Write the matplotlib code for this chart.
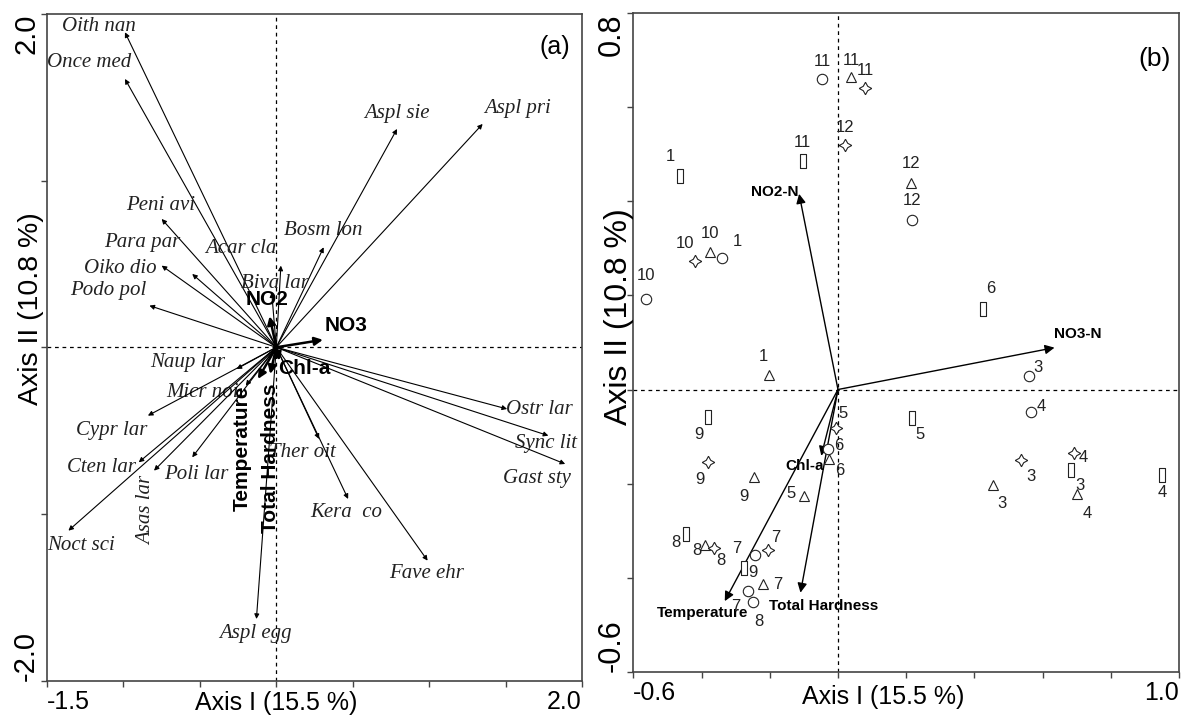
import numpy as np
import matplotlib
matplotlib.use('Agg')
import matplotlib.pyplot as plt
from matplotlib import font_manager as fm

plt.rcParams['font.family'] = ['Liberation Sans', 'DejaVu Sans']

# ---------------- panel (a): species / environment biplot ----------------
species = ['Oith nan', 'Once med', 'Peni avi', 'Para par', 'Oiko dio', 'Podo pol',
           'Acar cla', 'Bosm lon', 'Biva lar', 'Aspl sie', 'Aspl pri', 'Naup lar',
           'Micr noi', 'Cypr lar', 'Cten lar', 'Asas lar', 'Poli lar', 'Noct sci',
           'Aspl egg', 'Ther oit', 'Kera  co', 'Fave ehr', 'Ostr lar', 'Sync lit',
           'Gast sty']
sp_x = [-0.99, -0.99, -0.75, -0.55, -0.75, -0.83, 0.03, 0.31, -0.03, 0.79, 1.35,
        -0.26, -0.20, -0.84, -0.90, -0.80, -0.55, -1.36, -0.13, 0.28, 0.47, 0.99,
        1.51, 1.78, 1.89]
sp_y = [1.89, 1.61, 0.77, 0.44, 0.49, 0.25, 0.49, 0.60, 0.33, 1.31, 1.34,
        -0.13, -0.23, -0.41, -0.69, -0.74, -0.66, -1.10, -1.63, -0.55, -0.91, -1.28,
        -0.37, -0.53, -0.70]

env_a = ['NO2', 'NO3', 'Chl-a', 'Temperature', 'Total Hardness']
env_a_x = [-0.044, 0.305, 0.02, -0.12, -0.04]
env_a_y = [0.186, 0.045, -0.08, -0.19, -0.16]

# ---------------- panel (b): samples / environment biplot ----------------
env_b = ['NO2-N', 'NO3-N', 'Chl-a', 'Temperature', 'Total Hardness']
env_b_x = [-0.114, 0.635, -0.049, -0.332, -0.110]
env_b_y = [0.416, 0.089, -0.141, -0.450, -0.432]

circ_x = [-0.047, -0.339, -0.562, 0.217, 0.559, 0.567, -0.029, -0.244, -0.264, -0.249]
circ_y = [0.660, 0.280, 0.192, 0.361, 0.029, -0.047, -0.126, -0.352, -0.428, -0.451]
circ_lab = ['11', '1', '10', '12', '3', '4', '6', '7', '7', '8']

tri_x = [0.039, -0.376, -0.203, 0.215, 0.455, 0.701, -0.246, -0.101, -0.026, -0.391, -0.220]
tri_y = [0.664, 0.292, 0.031, 0.440, -0.203, -0.223, -0.186, -0.226, -0.148, -0.330, -0.414]
tri_lab = ['11', '10', '1', '12', '3', '4', '9', '5', '6', '8', '7']

star_x = [0.080, 0.020, -0.420, 0.538, 0.691, -0.381, -0.005, -0.365, -0.205]
star_y = [0.641, 0.519, 0.274, -0.150, -0.136, -0.155, -0.081, -0.337, -0.342]
star_lab = ['11', '12', '10', '3', '4', '9', '5', '8', '7']

rect_x = [-0.104, -0.464, 0.425, 0.217, 0.684, 0.951, -0.381, -0.447, -0.277]
rect_y = [0.485, 0.455, 0.171, -0.061, -0.171, -0.182, -0.058, -0.308, -0.380]
rect_lab = ['11', '1', '6', '5', '3', '4', '9', '8', '9']

# label offsets (points) -- layout only
sp_off = [(-19, 4.5), (-26, 12), (-1, 10), (-36, 23), (-30, -2), (-30, 11),
          (-29, 12), (0, 12), (2, 6), (0, 11), (25, 11), (-35, 4.5),
          (-31, -5), (-26, -11), (-27, -4), (-5, -29), (3, -12.5), (9, -11),
          (-1, -10.5), (-12, -10), (-1, -10), (-1, -9.5), (23, -0.5), (-2, -6),
          (-20, -10.5)]
env_a_off = [(-1.5, 12), (17, 10), (18, -6), (-11, -50), (0, -61)]
env_b_off = [(-17.5, 1), (17, 10), (-12, -7), (-16, -8.5), (17, -9.5)]
circ_off = [(0, 13), (11, 12), (0, 17), (0, 14), (6.5, 6), (7, 3.5), (8, 2), (-13, 5), (-8.5, -11), (4, -14)]
tri_off = [(0, 12), (0, 13.5), (-4, 13), (0, 13.5), (6.5, -13), (7, -14), (-7, -14), (-9, 2), (8, -8), (-5.5, -4), (11, 0)]
star_off = [(0, 13), (0, 13), (-7, 12), (6.5, -12), (7, -3), (-6, -12), (5, 10), (5, -9), (5.5, 9.5)]
rect_off = [(0, 13.5), (-6.5, 14), (6, 14.5), (5.5, -11.5), (6.5, -11), (0, -12.5), (-6.5, -13), (-7, -6), (7, -3)]

names = {f.name for f in fm.fontManager.ttflist}
narrow = 'Liberation Sans Narrow' in names
num_font = 'Liberation Sans Narrow' if narrow else 'Liberation Sans'
num_size = 13 if narrow else 12
envb_size = 12 if narrow else 11


def arrow(ax, x, y, lw, ms):
    ax.annotate('', xy=(x, y), xytext=(0, 0),
                arrowprops=dict(arrowstyle='-|>', lw=lw, color='black',
                                mutation_scale=ms, shrinkA=0, shrinkB=0))


def style_axes(ax, xt, yt, xs, ys):
    for s in ax.spines.values():
        s.set_color('#444444')
        s.set_linewidth(1.2)
    ax.set_xticks(xt)
    ax.set_yticks(yt)
    ax.set_xticklabels([f'{xt[0]:.1f}'] + [''] * (len(xt) - 2) + [f'{xt[-1]:.1f}'],
                       fontsize=xs)
    ax.set_yticklabels([f'{yt[0]:.1f}'] + [''] * (len(yt) - 2) + [f'{yt[-1]:.1f}'],
                       fontsize=ys, rotation=90)
    xl = ax.get_xticklabels()
    xl[0].set_ha('left')
    xl[-1].set_ha('right')
    yl = ax.get_yticklabels()
    yl[0].set_va('bottom')
    yl[-1].set_va('top')
    ax.tick_params(direction='out', length=4, width=1, color='#444444')
    ax.tick_params(axis='x', pad=3)
    ax.tick_params(axis='y', pad=1)
    ax.axhline(0, color='black', lw=0.9, ls=(0, (3, 3)), zorder=0)
    ax.axvline(0, color='black', lw=0.9, ls=(0, (3, 3)), zorder=0)


fig = plt.figure(figsize=(11.81, 7.18), dpi=100)

# ----- (a)
ax1 = fig.add_axes([0.0398, 0.052, 0.453, 0.9286])
ax1.set_xlim(-1.5, 2.0)
ax1.set_ylim(-2.0, 2.0)
style_axes(ax1, np.arange(-1.5, 2.01, 0.5), np.arange(-2.0, 2.01, 1.0), 18, 21)

for name, x, y, off in zip(species, sp_x, sp_y, sp_off):
    arrow(ax1, x, y, 0.8, 7)
    rot = 90 if name == 'Asas lar' else 0
    ax1.annotate(name, (x, y), xytext=off, textcoords='offset points',
                 ha='center', va='center', fontsize=15, rotation=rot,
                 family='Liberation Serif', style='italic', color='#222222')

for name, x, y, off in zip(env_a, env_a_x, env_a_y, env_a_off):
    arrow(ax1, x, y, 1.8, 12)
    rot = 90 if name in ('Temperature', 'Total Hardness') else 0
    ax1.annotate(name, (x, y), xytext=off, textcoords='offset points',
                 ha='center', va='center', fontsize=15, rotation=rot,
                 fontweight='bold')

ax1.text(0.95, 0.95, '(a)', transform=ax1.transAxes, fontsize=18,
         ha='center', va='center')
ax1.text(0.428, -0.0335, 'Axis I (15.5 %)', transform=ax1.transAxes,
         fontsize=18, ha='center', va='center')
ax1.text(-0.030, 0.558, 'Axis II (10.8 %)', transform=ax1.transAxes,
         fontsize=20.5, ha='center', va='center', rotation=90)

# ----- (b)
ax2 = fig.add_axes([0.5363, 0.0645, 0.462, 0.917])
ax2.set_xlim(-0.6, 1.0)
ax2.set_ylim(-0.6, 0.8)
style_axes(ax2, np.arange(-0.6, 1.01, 0.2), np.arange(-0.6, 0.81, 0.2), 18, 22)

for name, x, y, off in zip(env_b, env_b_x, env_b_y, env_b_off):
    arrow(ax2, x, y, 1.0, 14)
    ax2.annotate(name, (x, y), xytext=off, textcoords='offset points',
                 ha='center', va='center', fontsize=envb_size,
                 fontweight='bold', family=num_font)

rect_marker = [(-0.22, -0.5), (0.22, -0.5), (0.22, 0.5), (-0.22, 0.5), (-0.22, -0.5)]
groups = [
    (circ_x, circ_y, circ_lab, circ_off, 'o', 7.5),
    (tri_x, tri_y, tri_lab, tri_off, '^', 7.5),
    (star_x, star_y, star_lab, star_off, (4, 1, 0), 9),
    (rect_x, rect_y, rect_lab, rect_off, rect_marker, 10),
]
for xs, ys, labs, offs, mk, ms in groups:
    ax2.plot(xs, ys, ls='none', marker=mk, ms=ms, mfc='white', mec='#222222',
             mew=0.8, zorder=3)
    for x, y, lab, off in zip(xs, ys, labs, offs):
        ax2.annotate(lab, (x, y), xytext=off, textcoords='offset points',
                     ha='center', va='center', fontsize=num_size,
                     family=num_font, color='#222222')

ax2.text(0.955, 0.93, '(b)', transform=ax2.transAxes, fontsize=19,
         ha='center', va='center')
ax2.text(0.4576, -0.038, 'Axis I (15.5 %)', transform=ax2.transAxes,
         fontsize=18, ha='center', va='center')
ax2.text(-0.026, 0.540, 'Axis II (10.8 %)', transform=ax2.transAxes,
         fontsize=23, ha='center', va='center', rotation=90)

fig.savefig('out.png', dpi=100)
